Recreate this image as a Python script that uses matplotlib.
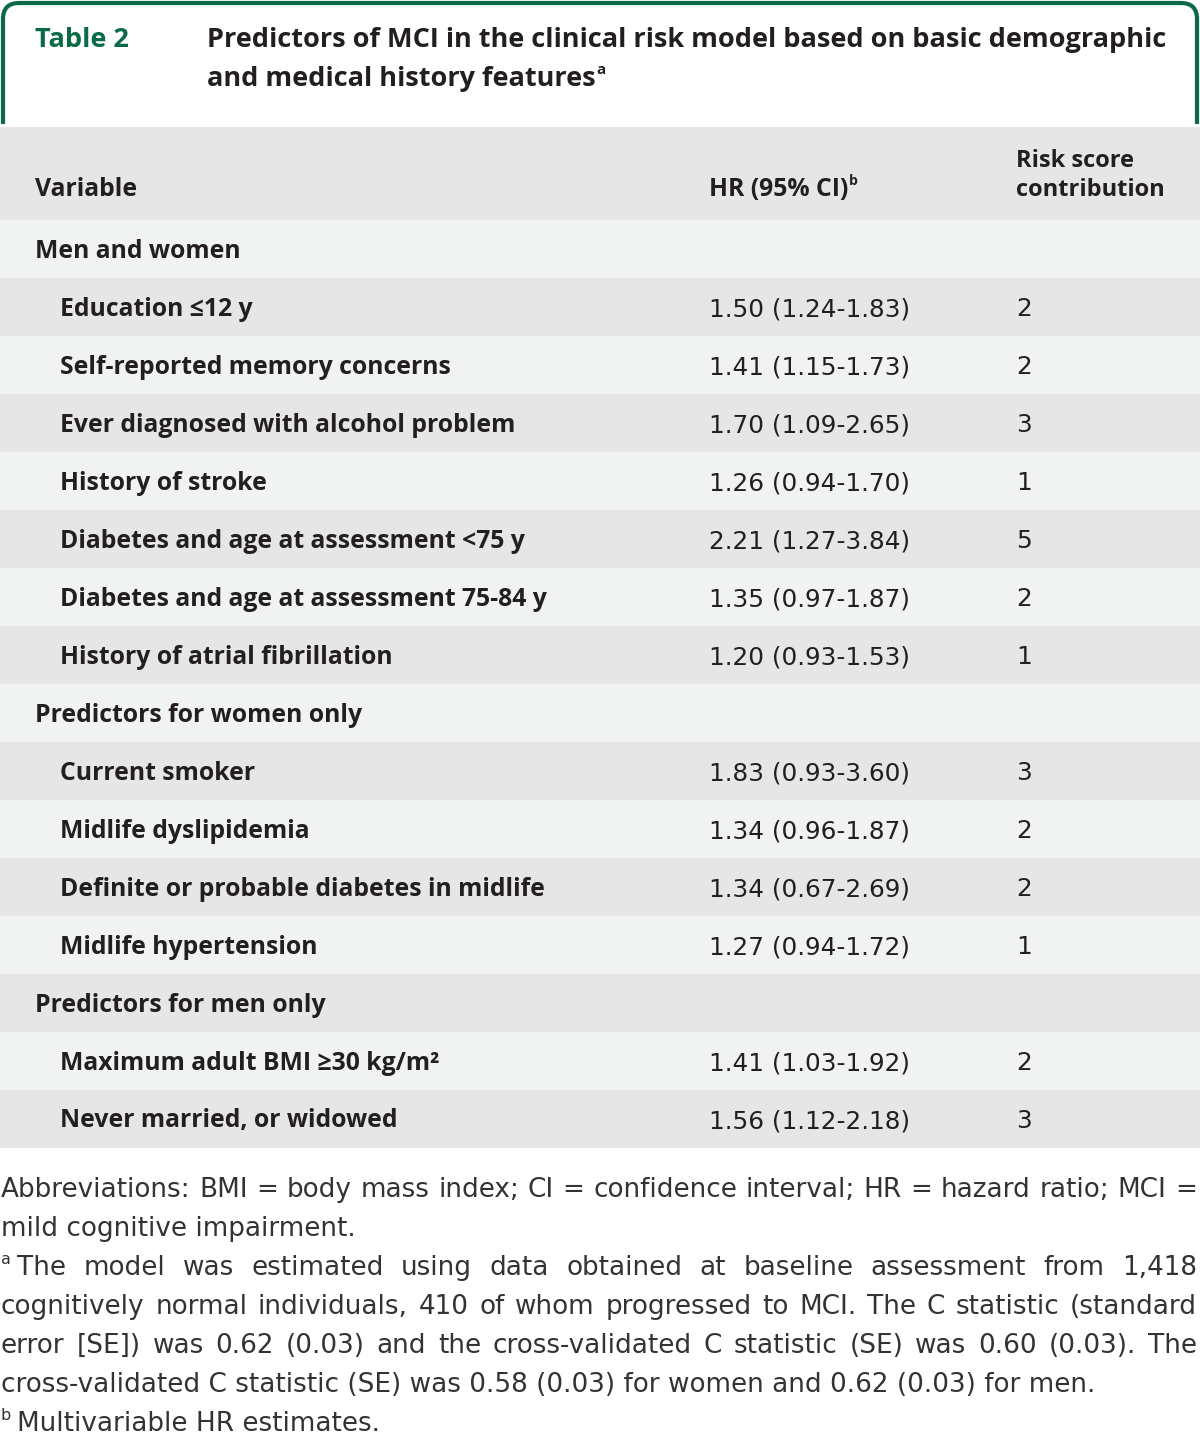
import matplotlib
matplotlib.use("Agg")
import matplotlib.pyplot as plt
from matplotlib.patches import Rectangle, FancyBboxPatch

# table content
variables = ["Men and women", "Education \u226412 y", "Self-reported memory concerns",
             "Ever diagnosed with alcohol problem", "History of stroke",
             "Diabetes and age at assessment <75 y", "Diabetes and age at assessment 75-84 y",
             "History of atrial fibrillation", "Predictors for women only", "Current smoker",
             "Midlife dyslipidemia", "Definite or probable diabetes in midlife",
             "Midlife hypertension", "Predictors for men only",
             "Maximum adult BMI \u226530 kg/m\u00b2", "Never married, or widowed"]
is_section = [True, False, False, False, False, False, False, False, True, False,
              False, False, False, True, False, False]
hr_ci = ["", "1.50 (1.24-1.83)", "1.41 (1.15-1.73)", "1.70 (1.09-2.65)", "1.26 (0.94-1.70)",
         "2.21 (1.27-3.84)", "1.35 (0.97-1.87)", "1.20 (0.93-1.53)", "", "1.83 (0.93-3.60)",
         "1.34 (0.96-1.87)", "1.34 (0.67-2.69)", "1.27 (0.94-1.72)", "",
         "1.41 (1.03-1.92)", "1.56 (1.12-2.18)"]
scores = ["", "2", "2", "3", "1", "5", "2", "1", "", "3", "2", "2", "1", "", "2", "3"]

title_lines = ["Predictors of MCI in the clinical risk model based on basic demographic",
               "and medical history features"]
# footnote lines as broken in the journal page; (marker, text, justified)
foot_lines = [
    ("", "Abbreviations: BMI = body mass index; CI = confidence interval; HR = hazard ratio; MCI =", True),
    ("", "mild cognitive impairment.", False),
    ("a", "The model was estimated using data obtained at baseline assessment from 1,418", True),
    ("", "cognitively normal individuals, 410 of whom progressed to MCI. The C statistic (standard", True),
    ("", "error [SE]) was 0.62 (0.03) and the cross-validated C statistic (SE) was 0.60 (0.03). The", True),
    ("", "cross-validated C statistic (SE) was 0.58 (0.03) for women and 0.62 (0.03) for men.", False),
    ("b", "Multivariable HR estimates.", False),
]

BOLD_FONT = ["Open Sans", "DejaVu Sans"]
REG_FONT = ["DejaVu Sans"]
GREEN = "#0b6b47"
INK = "#231f20"
DARK = "#e6e6e6"
LIGHT = "#f1f2f2"

W, H = 1200, 1436
fig = plt.figure(figsize=(12, 14.36), dpi=100)
ax = fig.add_axes([0, 0, 1, 1])
ax.set_xlim(0, W)
ax.set_ylim(H, 0)
ax.axis("off")
renderer = fig.canvas.get_renderer()


def txt(x, y, s, size, weight="normal", color=INK, **kw):
    fam = BOLD_FONT if weight == "bold" else REG_FONT
    return ax.text(x, y, s, fontsize=size, fontweight=weight, color=color, family=fam,
                   va="center", ha="left", zorder=3, **kw)


def width(t):
    return t.get_window_extent(renderer).width


# green frame around the title
frame = FancyBboxPatch((3, 3), W - 6, 200, boxstyle="round,pad=0,rounding_size=16",
                       fc="white", ec=GREEN, lw=3, zorder=1)
ax.add_patch(frame)
ax.add_patch(Rectangle((0, 124), W, 120, fc="white", ec="none", zorder=2))

txt(35, 40, "Table 2", 19.5, "bold", GREEN)
txt(207, 40, title_lines[0], 19.5, "bold")
t2 = txt(207, 79, title_lines[1], 19.5, "bold")
txt(207 + width(t2) + 1, 70, "a", 11, "bold")

# header band
top, head_h, row_h = 127, 93, 58
body_fs = 17.8
reg_fs = 17.8
ax.add_patch(Rectangle((0, top), W, head_h, fc=DARK, ec="none", zorder=2))
txt(35, 190, "Variable", body_fs, "bold")
th = txt(709, 190, "HR (95% CI)", body_fs, "bold")
txt(709 + width(th) + 1, 181, "b", 10, "bold")
txt(1016, 161, "Risk score", 17, "bold")
txt(1016, 190, "contribution", 17, "bold")

# body rows
y0 = top + head_h
for i, (var, sec, hr, sc) in enumerate(zip(variables, is_section, hr_ci, scores)):
    yt = y0 + i * row_h
    ax.add_patch(Rectangle((0, yt), W, row_h, fc=LIGHT if i % 2 == 0 else DARK,
                           ec="none", zorder=2))
    yc = yt + row_h / 2 + 2
    txt(35 if sec else 60, yc, var, body_fs, "bold")
    txt(709, yc, hr, reg_fs)
    txt(1016, yc, sc, reg_fs)

# footnotes
fs = 18.9
y = 1190
for mark, line, justify in foot_lines:
    x = 1
    if mark:
        txt(1, y - 8, mark, 11.5, color="#333333")
        x = 17
    if not justify:
        txt(x, y, line, fs, color="#333333")
    else:
        words = line.split()
        ts = [txt(0, y, w, fs, color="#333333") for w in words]
        ws = [width(t) for t in ts]
        gap = (1197 - x - sum(ws)) / (len(words) - 1)
        for t, w in zip(ts, ws):
            t.set_x(x)
            x += w + gap
    y += 39

fig.savefig("out.png", dpi=100)
